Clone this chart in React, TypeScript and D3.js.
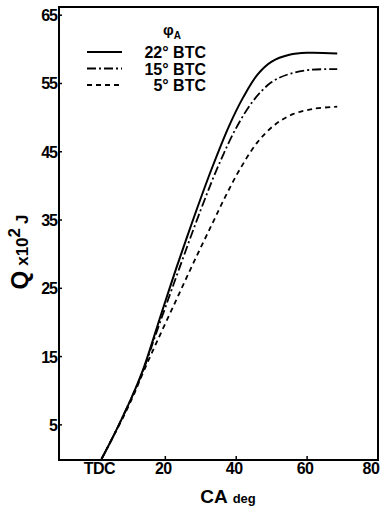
import { useEffect, useRef } from 'react';
import * as d3 from 'd3';

// --- data (x = crank angle deg, y = Q x10^2 J) ---
const advanceLabels = ['22° BTC', '15° BTC', '5° BTC'];
const dashStyles = ['none', '9,3,2,3', '5,4'];

const curve22: [number, number][] = [
  [2, 0], [5, 3], [8, 6.2], [11, 9.6], [14, 13.5], [19, 21.5], [23, 27.8],
  [28, 35.3], [33, 42.4], [38, 48.8], [42, 53], [46, 56.3], [50, 58.2],
  [55, 59.2], [60, 59.5], [68.5, 59.4],
];
const curve15: [number, number][] = [
  [2, 0], [5, 3], [8, 6.2], [11, 9.6], [14, 13.3], [17, 17.8], [20, 22.2],
  [24, 28], [30, 36.5], [35, 43], [40, 48.5], [45, 52.6], [50, 55.2],
  [55, 56.4], [61, 57], [68.5, 57.1],
];
const curve5: [number, number][] = [
  [2, 0], [5, 3], [8, 6], [11, 9.3], [14, 13], [18, 17.6], [23, 23.2],
  [28, 28.8], [33, 34.2], [37, 38.5], [41, 42.4], [46, 46.4], [51, 49],
  [56, 50.5], [62, 51.3], [68.5, 51.6],
];
const series = [curve22, curve15, curve5];

const yTicks = [5, 15, 25, 35, 45, 55, 65];
const xTicks = [0, 20, 40, 60, 80];
const xTickLabels = ['TDC', '20', '40', '60', '80'];

function App() {
  const svgRef = useRef<SVGSVGElement>(null);

  useEffect(() => {
    const svg = d3.select(svgRef.current);
    svg.selectAll('*').remove();

    const left = 59, right = 378, top = 7, bottom = 459;
    const x = d3.scaleLinear().domain([-10, 80]).range([left, right]);
    const y = d3.scaleLinear().domain([0, 66.2]).range([bottom, top]);
    const font = "'Liberation Sans', Arial, sans-serif";

    // frame
    svg.append('rect')
      .attr('x', left).attr('y', top)
      .attr('width', right - left).attr('height', bottom - top + 1)
      .attr('fill', 'none').attr('stroke', '#000').attr('stroke-width', 2);

    // y ticks + labels
    yTicks.forEach(t => {
      svg.append('line')
        .attr('x1', left - 1).attr('x2', left + 3)
        .attr('y1', y(t)).attr('y2', y(t))
        .attr('stroke', '#000').attr('stroke-width', 1.5);
      svg.append('text')
        .attr('x', left - 2).attr('y', y(t) + 6)
        .attr('text-anchor', 'end')
        .style('font-family', font).style('font-size', '16px').style('font-weight', 'bold')
        .style('letter-spacing', '-1px')
        .text(t);
    });

    // x ticks + labels
    xTicks.forEach((t, i) => {
      if (t > 0 && t < 80) {
        svg.append('line')
          .attr('x1', x(t)).attr('x2', x(t))
          .attr('y1', bottom + 1).attr('y2', bottom - 3)
          .attr('stroke', '#000').attr('stroke-width', 1.5);
      }
      const dx = i === 0 ? 5 : i === 4 ? -7 : -2;
      svg.append('text')
        .attr('x', x(t) + dx).attr('y', bottom + 15)
        .attr('text-anchor', 'middle')
        .style('font-family', font).style('font-size', '16px').style('font-weight', 'bold')
        .style('letter-spacing', '-0.5px')
        .text(xTickLabels[i]);
    });

    // axis titles
    const xt = svg.append('text')
      .attr('x', 228).attr('y', 503)
      .attr('text-anchor', 'middle')
      .style('font-family', font);
    xt.append('tspan').style('font-size', '19px').style('font-weight', 'bold').text('CA');
    xt.append('tspan').attr('dx', 5).style('font-size', '13px').style('font-weight', 'bold').text('deg');

    const yt = svg.append('text')
      .attr('transform', 'translate(28,252) rotate(-90)')
      .attr('text-anchor', 'middle')
      .style('font-family', font).style('font-weight', 'bold');
    yt.append('tspan').style('font-size', '24px').text('Q');
    yt.append('tspan').attr('dx', 5).style('font-size', '17px').text('x10');
    yt.append('tspan').attr('dy', -8).style('font-size', '17px').text('2');
    yt.append('tspan').attr('dy', 8).attr('dx', 4).style('font-size', '17px').text('J');

    // curves
    const line = d3.line<[number, number]>()
      .x(d => x(d[0]))
      .y(d => y(d[1]))
      .curve(d3.curveCatmullRom.alpha(0.5));

    series.forEach((s, i) => {
      svg.append('path')
        .datum(s)
        .attr('d', line)
        .attr('fill', 'none')
        .attr('stroke', '#000')
        .attr('stroke-width', i === 0 ? 2 : 1.8)
        .attr('stroke-dasharray', dashStyles[i]);
    });

    // legend
    const lg = svg.append('g');
    const head = lg.append('text')
      .attr('x', 163).attr('y', 35)
      .style('font-family', font).style('font-size', '15px').style('font-weight', 'bold');
    head.append('tspan').text('φ');
    head.append('tspan').attr('dy', 4).style('font-size', '10px').text('A');

    advanceLabels.forEach((lab, i) => {
      const ly = 52 + i * 16.5;
      lg.append('line')
        .attr('x1', 87).attr('x2', 122)
        .attr('y1', ly).attr('y2', ly)
        .attr('stroke', '#000').attr('stroke-width', 2)
        .attr('stroke-dasharray', dashStyles[i]);
      lg.append('text')
        .attr('x', 206).attr('y', ly + 6)
        .attr('text-anchor', 'end')
        .style('font-family', font).style('font-size', '16px').style('font-weight', 'bold')
        .text(lab);
    });
  }, []);

  return <svg ref={svgRef} width={383} height={510} style={{ position: 'absolute', left: 0, top: 0 }}></svg>;
}

export default App;
